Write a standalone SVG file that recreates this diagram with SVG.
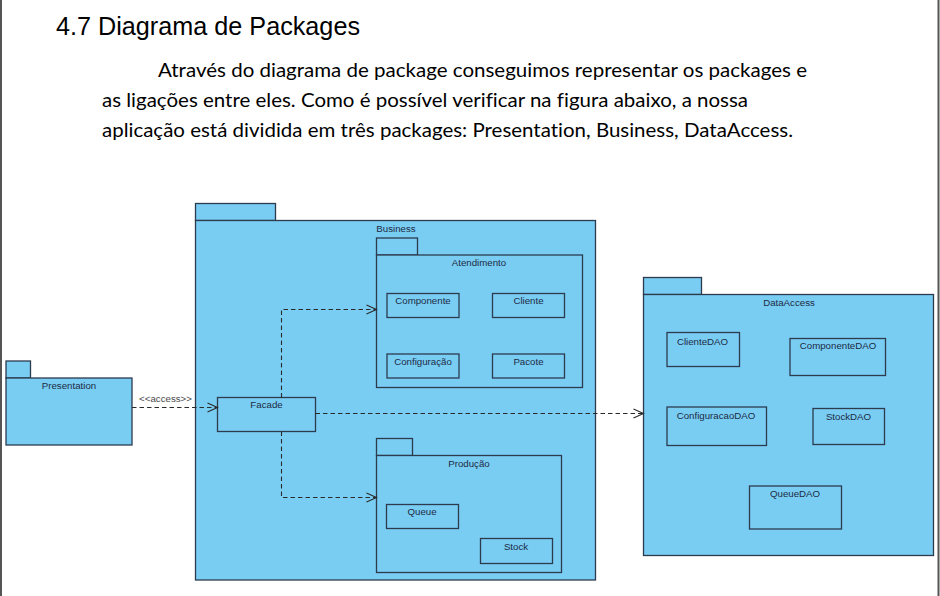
<svg xmlns="http://www.w3.org/2000/svg" width="940" height="596" viewBox="0 0 940 596">
<defs>
<style>
.pkg{fill:#79cdf3;stroke:#2d3b4f;stroke-width:1.3}
.cls{fill:#79cdf3;stroke:#2d3b4f;stroke-width:1.3}
.lbl{font-family:"Liberation Sans",Arial,sans-serif;font-size:9.7px;fill:#1c2b44;text-anchor:middle}
.con{fill:none;stroke:#2a2a2a;stroke-width:1.1;stroke-dasharray:4.5 3}
.body{font-family:Lato,"Open Sans",sans-serif;font-size:19px;fill:#000;font-variant-ligatures:none}
</style>
<marker id="open" markerUnits="userSpaceOnUse" markerWidth="14" markerHeight="14" refX="11" refY="6" orient="auto">
<path d="M1,1.5 L11,6 L1,10.5" fill="none" stroke="#2a2a2a" stroke-width="1.1" stroke-dasharray="none"/>
</marker>
</defs>
<rect width="940" height="596" fill="#fff"/>
<line x1="1" y1="0" x2="1" y2="596" stroke="#555" stroke-width="2"/>
<line x1="938.5" y1="0" x2="938.5" y2="596" stroke="#555" stroke-width="2"/>

<g id="heading">
<text x="56" y="35" font-family="Liberation Sans,Arial,sans-serif" font-size="25" fill="#000" textLength="304" lengthAdjust="spacingAndGlyphs">4.7 Diagrama de Packages</text>
<text class="body" x="158" y="77" textLength="649" lengthAdjust="spacingAndGlyphs">Através do diagrama de package conseguimos representar os packages e</text>
<text class="body" x="102" y="107" textLength="646" lengthAdjust="spacingAndGlyphs">as ligações entre eles. Como é possível verificar na figura abaixo, a nossa</text>
<text class="body" x="102" y="137" textLength="691" lengthAdjust="spacingAndGlyphs">aplicação está dividida em três packages: Presentation, Business, DataAccess.</text>
</g>

<g id="Business">
<rect class="pkg" x="195.5" y="203.5" width="80" height="17"/>
<rect class="pkg" x="195.5" y="220.5" width="400" height="359.5"/>
<text class="lbl" x="396" y="231.5">Business</text>
</g>

<g id="Atendimento">
<rect class="pkg" x="376.5" y="238" width="41" height="17"/>
<rect class="pkg" x="376.5" y="255" width="206" height="132.5"/>
<text class="lbl" x="479" y="266">Atendimento</text>
</g>
<g id="Componente"><rect class="cls" x="387" y="293.5" width="72" height="24"/><text class="lbl" x="423" y="304">Componente</text></g>
<g id="Cliente"><rect class="cls" x="492.5" y="293.5" width="72" height="24"/><text class="lbl" x="528.5" y="304">Cliente</text></g>
<g id="Configuracao"><rect class="cls" x="387" y="354" width="72" height="24"/><text class="lbl" x="423" y="364.5">Configuração</text></g>
<g id="Pacote"><rect class="cls" x="492.5" y="354" width="72" height="24"/><text class="lbl" x="528.5" y="364.5">Pacote</text></g>

<g id="Producao">
<rect class="pkg" x="376.5" y="438.5" width="36" height="17"/>
<rect class="pkg" x="376.5" y="455.5" width="185" height="117"/>
<text class="lbl" x="469" y="466.5">Produção</text>
</g>
<g id="Queue"><rect class="cls" x="386.5" y="504.5" width="72" height="24"/><text class="lbl" x="422" y="515">Queue</text></g>
<g id="Stock"><rect class="cls" x="480.5" y="538.5" width="72" height="25"/><text class="lbl" x="516" y="550">Stock</text></g>

<g id="Facade"><rect class="cls" x="217.5" y="397.5" width="98" height="34"/><text class="lbl" x="266.5" y="407.5">Facade</text></g>

<g id="Presentation">
<rect class="pkg" x="6" y="361" width="24.5" height="17"/>
<rect class="pkg" x="6" y="378" width="126" height="67"/>
<text class="lbl" x="69" y="388.5">Presentation</text>
</g>

<g id="DataAccess">
<rect class="pkg" x="643.5" y="277.5" width="58" height="17"/>
<rect class="pkg" x="643.5" y="294.5" width="290" height="261"/>
<text class="lbl" x="789" y="305.5">DataAccess</text>
</g>
<g id="ClienteDAO"><rect class="cls" x="667" y="332.5" width="72.5" height="34"/><text class="lbl" x="702.5" y="344.5">ClienteDAO</text></g>
<g id="ComponenteDAO"><rect class="cls" x="790" y="338.5" width="95.5" height="37"/><text class="lbl" x="838" y="349">ComponenteDAO</text></g>
<g id="ConfiguracaoDAO"><rect class="cls" x="667" y="407" width="99.5" height="38.5"/><text class="lbl" x="716" y="418.5">ConfiguracaoDAO</text></g>
<g id="StockDAO"><rect class="cls" x="813" y="408.5" width="71.5" height="36"/><text class="lbl" x="848.5" y="420">StockDAO</text></g>
<g id="QueueDAO"><rect class="cls" x="749.5" y="486" width="92" height="43"/><text class="lbl" x="795" y="496.5">QueueDAO</text></g>

<g id="connectors">
<path class="con" d="M132,407.5 H217.5" marker-end="url(#open)"/>
<text x="165.5" y="402" font-family="Liberation Sans,Arial,sans-serif" font-size="9.7" fill="#4a4a4a" text-anchor="middle">&lt;&lt;access&gt;&gt;</text>
<path class="con" d="M281.5,397.5 V309.5 H376.5" marker-end="url(#open)"/>
<path class="con" d="M281.5,431.5 V497.5 H376.5" marker-end="url(#open)"/>
<path class="con" d="M315.5,413.5 H643.5" marker-end="url(#open)"/>
</g>
</svg>
